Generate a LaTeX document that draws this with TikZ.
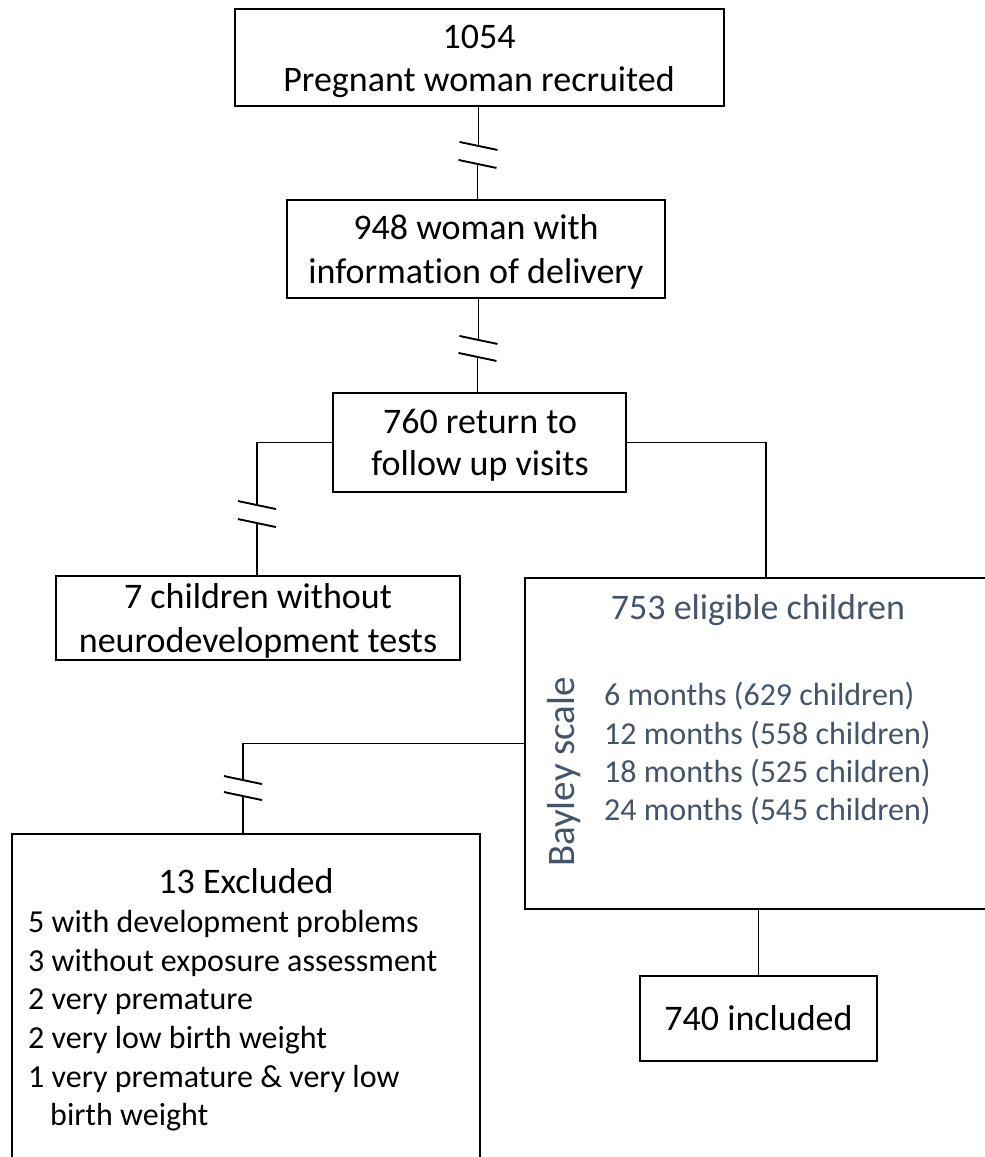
\documentclass[tikz,border=0pt]{standalone}
\usepackage{fontspec}
\setmainfont{Carlito}[Ligatures={NoCommon,TeX}]
\usetikzlibrary{calc}
\definecolor{slate}{HTML}{44546A}
\tikzset{
  box/.style={draw=black, line width=1.9pt, inner sep=0pt, fill=white},
  conn/.style={draw=black, line width=1.9pt},
  brk/.style={draw=black, line width=1.9pt},
  big/.style={inner sep=0pt, font=\fontsize{36}{44}\selectfont, text=black},
  small/.style={inner sep=0pt, font=\fontsize{32}{39}\selectfont, text=black},
}
\begin{document}
\begin{tikzpicture}[x=1pt,y=-1pt]
\useasboundingbox (0,0) rectangle (985,1157);
\fill[white] (0,0) rectangle (985,1157);
\clip (0,0) rectangle (985,1157);

% boxes
\node[box, minimum width=489pt, minimum height=97pt] (b1) at (479.5,57.5) {};
\node[box, minimum width=378pt, minimum height=98pt] (b2) at (476,249) {};
\node[box, minimum width=293pt, minimum height=99pt] (b3) at (479.5,442.5) {};
\node[box, minimum width=404pt, minimum height=84pt] (b4) at (258,618) {};
\node[box, minimum width=466pt, minimum height=331pt] (b5) at (758,743.5) {};
\node[box, minimum width=468pt, minimum height=346pt] (b6) at (246,1007) {};
\node[box, minimum width=237pt, minimum height=85pt] (b7) at (758.5,1018.5) {};

% connectors with breaks
\coordinate (k1a) at ($(b1.south)+(-1,39)$);
\coordinate (k1b) at ($(k1a)+(-1,18)$);
\draw[conn] (k1a |- b1.south) -- (k1a);
\draw[conn] (k1b) -- (k1b |- b2.north);
\draw[brk] ($(k1a)+(-19,-4)$) -- ($(k1a)+(19,4)$);
\draw[brk] ($(k1b)+(-19,-4)$) -- ($(k1b)+(19,4)$);

\coordinate (k2a) at ($(b3.north |- b2.south)+(-1,41)$);
\coordinate (k2b) at ($(k2a)+(-1,17)$);
\draw[conn] (k2a |- b2.south) -- (k2a);
\draw[conn] (k2b) -- (k2b |- b3.north);
\draw[brk] ($(k2a)+(-19,-4)$) -- ($(k2a)+(19,4)$);
\draw[brk] ($(k2b)+(-19,-4)$) -- ($(k2b)+(19,4)$);

\coordinate (k3a) at ($(b4.north)+(-1,-70)$);
\coordinate (k3b) at ($(k3a)+(0,18)$);
\draw[conn] (b3.west) -| (k3a);
\draw[conn] (k3b) -- (k3b |- b4.north);
\draw[brk] ($(k3a)+(-19,-4)$) -- ($(k3a)+(19,4)$);
\draw[brk] ($(k3b)+(-19,-4)$) -- ($(k3b)+(19,4)$);

\coordinate (k4) at ($(b5.north)+(8,0)$);
\draw[conn] (b3.east) -| (k4);

\coordinate (k5a) at ($(b6.north)+(-3,-53)$);
\coordinate (k5b) at ($(k5a)+(0,16)$);
\draw[conn] (b5.west) -| (k5a);
\draw[conn] (k5b) -- (k5b |- b6.north);
\draw[brk] ($(k5a)+(-19,-4)$) -- ($(k5a)+(19,4)$);
\draw[brk] ($(k5b)+(-19,-4)$) -- ($(k5b)+(19,4)$);

\draw[conn] (b7.north |- b5.south) -- (b7.north);

% texts
\node[big, anchor=base] (t1a) at (479,48) {1054};
\node[big, anchor=base] (t1b) at (479,91) {Pregnant woman recruited};
\node[big, anchor=base] (t2a) at (476,239) {948 woman with};
\node[big, anchor=base] (t2b) at (476,283) {information of delivery};
\node[big, anchor=base] (t3a) at (480,433) {760 return to};
\node[big, anchor=base] (t3b) at (480,475) {follow up visits};
\node[big, anchor=base] (t4a) at (258,608) {7 children without};
\node[big, anchor=base] (t4b) at (258,652) {neurodevelopment tests};
\node[big, anchor=base, text=slate] (t5) at (758,619) {753 eligible children};
\node[small, anchor=base west, text=slate] (m1) at (604,705) {6 months (629 children)};
\node[small, anchor=base west, text=slate] (m2) at (604,744) {12 months (558 children)};
\node[small, anchor=base west, text=slate] (m3) at (604,782) {18 months (525 children)};
\node[small, anchor=base west, text=slate] (m4) at (604,820) {24 months (545 children)};
\node[inner sep=0pt, font=\fontsize{39}{47}\selectfont, text=slate, rotate=90, anchor=base] (bay) at (574,772) {Bayley scale};
\node[big, anchor=base] (t6) at (246,893) {13 Excluded};
\node[small, anchor=base west] (e1) at (28,932) {5 with development problems};
\node[small, anchor=base west] (e2) at (28,971) {3 without exposure assessment};
\node[small, anchor=base west] (e3) at (28,1009) {2 very premature};
\node[small, anchor=base west] (e4) at (28,1048) {2 very low birth weight};
\node[small, anchor=base west] (e5) at (28,1087) {1 very premature \& very low};
\node[small, anchor=base west] (e6) at (50,1125) {birth weight};
\node[big, anchor=base] (t7) at (758.5,1030) {740 included};
\end{tikzpicture}
\end{document}
